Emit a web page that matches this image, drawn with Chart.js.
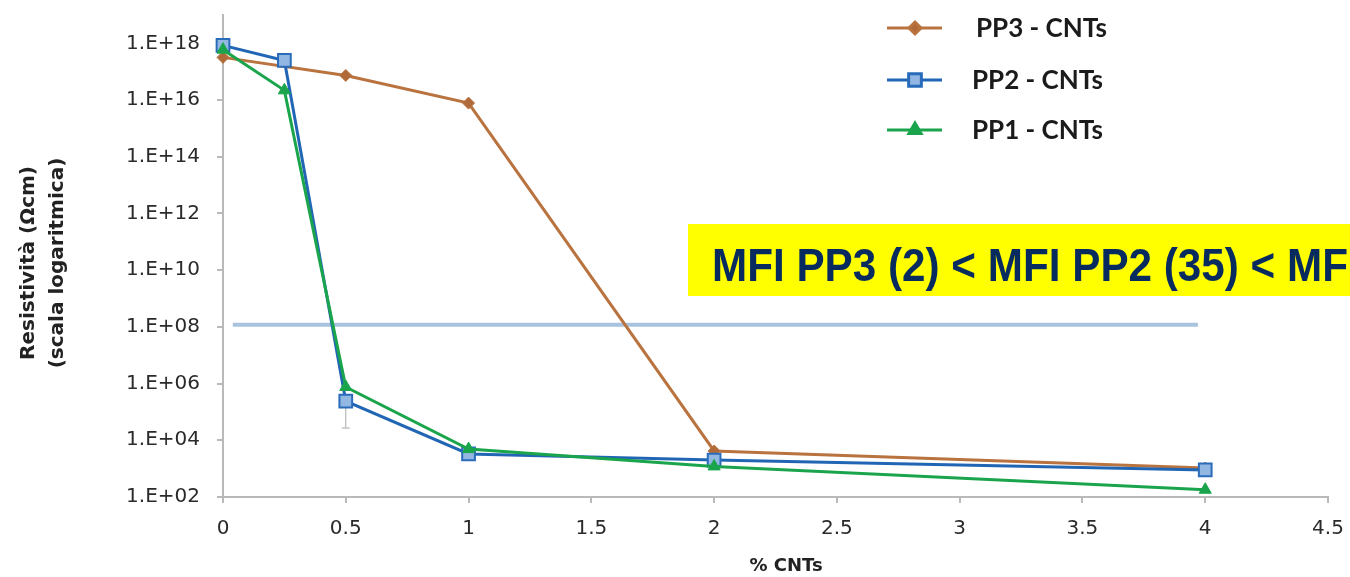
<!DOCTYPE html>
<html>
<head>
<meta charset="utf-8">
<script src="https://cdn.jsdelivr.net/npm/chart.js@4.4.1/dist/chart.umd.min.js"></script>
<style>
  html, body { margin: 0; padding: 0; background: #fff; }
  #wrap { width: 1350px; height: 577px; position: relative; }
</style>
</head>
<body>
<div id="wrap"><canvas id="chart"></canvas></div>
<script>
// resistivity (ohm*cm) vs CNT content (%)
const pp3X = [0, 0.5, 1, 2, 4];
const pp3Y = [3.2e17, 7.4e16, 7.8e15, 4.2e3, 1.05e3];
const pp2X = [0, 0.25, 0.5, 1, 2, 4];
const pp2Y = [8.5e17, 2.5e17, 2.4e5, 3.3e3, 2.0e3, 9.0e2];
const pp1X = [0, 0.25, 0.5, 1, 2, 4];
const pp1Y = [6.0e17, 2.2e16, 7.6e5, 4.9e3, 1.2e3, 1.8e2];

// percolation reference line
const limitX = [0.04, 3.97];
const limitY = [1.2e8, 1.2e8];

// lower whisker on PP2 at 0.5 %
const errX = [0.5];
const errLow = [2.7e4];

const yTickExp = [2, 4, 6, 8, 10, 12, 14, 16, 18];
const xTicks = [0, 0.5, 1, 1.5, 2, 2.5, 3, 3.5, 4, 4.5];
const seriesNames = ['PP3 - CNTs', 'PP2 - CNTs', 'PP1 - CNTs'];
const noteText = 'MFI PP3 (2) < MFI PP2 (35) < MF';

const axisGray = '#b9b9b9';
const tickFont = '"DejaVu Sans", sans-serif';

function pts(xs, ys) {
  return xs.map((x, i) => ({ x: x, y: ys[i] }));
}

// keep the plot box fixed, no extra room for edge labels
function noEdgePadding(s) {
  s.paddingTop = 0;
  s.paddingBottom = 0;
  s.paddingLeft = 0;
  s.paddingRight = 0;
}

const extras = {
  id: 'extras',
  beforeDatasetsDraw(chart) {
    const ctx = chart.ctx;
    const xs = chart.scales.x, ys = chart.scales.y;
    ctx.save();
    ctx.strokeStyle = '#a8a8a8';
    ctx.lineWidth = 1;
    errX.forEach((x, i) => {
      const k = pp2X.indexOf(x);
      const px = xs.getPixelForValue(x);
      const top = ys.getPixelForValue(pp2Y[k]);
      const bot = ys.getPixelForValue(errLow[i]);
      ctx.beginPath();
      ctx.moveTo(px, top);
      ctx.lineTo(px, bot);
      ctx.moveTo(px - 4, bot);
      ctx.lineTo(px + 4, bot);
      ctx.stroke();
    });
    ctx.restore();
  },
  afterDraw(chart) {
    const ctx = chart.ctx;
    ctx.save();

    // legend, drawn top to bottom
    const rows = [28, 80, 130];
    [0, 1, 2].forEach((di, r) => {
      const ds = chart.data.datasets[di];
      const y = rows[r];
      ctx.strokeStyle = ds.borderColor;
      ctx.lineWidth = 3;
      ctx.beginPath();
      ctx.moveTo(887, y);
      ctx.lineTo(942, y);
      ctx.stroke();
      ctx.fillStyle = ds.pointBackgroundColor;
      ctx.strokeStyle = ds.pointBorderColor;
      Chart.helpers.drawPoint(ctx, {
        pointStyle: ds.pointStyle,
        radius: ds.pointRadius,
        borderWidth: ds.pointBorderWidth,
        rotation: 0
      }, 915, y);
      ctx.fillStyle = '#1b1b1b';
      ctx.font = 'bold 26px Lato, sans-serif';
      ctx.textBaseline = 'middle';
      ctx.textAlign = 'left';
      ctx.fillText(seriesNames[di], r === 0 ? 976 : 972, y + 1);
    });

    // axis titles
    ctx.fillStyle = '#222';
    ctx.font = 'bold 18px "DejaVu Sans", sans-serif';
    ctx.textAlign = 'center';
    ctx.textBaseline = 'middle';
    ctx.fillText('% CNTs', 786, 566);
    ctx.font = 'bold 20px "DejaVu Sans", sans-serif';
    ctx.save();
    ctx.translate(29, 263);
    ctx.rotate(-Math.PI / 2);
    ctx.fillText('Resistività (Ωcm)', 0, 0);
    ctx.fillText('(scala logaritmica)', 0, 29);
    ctx.restore();

    // highlighted note
    ctx.fillStyle = '#ffff00';
    ctx.fillRect(688, 224, 662, 72);
    ctx.fillStyle = '#072b5e';
    ctx.font = 'bold 46px "Liberation Sans", Arial, sans-serif';
    ctx.textAlign = 'left';
    ctx.textBaseline = 'alphabetic';
    const w = ctx.measureText(noteText).width;
    ctx.translate(712, 281);
    ctx.scale(636 / w, 1);
    ctx.fillText(noteText, 0, 0);
    ctx.restore();
  }
};

new Chart(document.getElementById('chart'), {
  type: 'line',
  data: {
    datasets: [
      {
        label: seriesNames[0],
        data: pts(pp3X, pp3Y),
        borderColor: '#b9733f',
        borderWidth: 3,
        pointStyle: 'rectRot',
        pointRadius: 6,
        pointBackgroundColor: '#b06a3a',
        pointBorderColor: '#b9733f',
        pointBorderWidth: 1,
        order: 3,
        clip: false
      },
      {
        label: seriesNames[1],
        data: pts(pp2X, pp2Y),
        borderColor: '#2166b5',
        borderWidth: 3,
        pointStyle: 'rect',
        pointRadius: 9,
        pointBackgroundColor: '#93b7e3',
        pointBorderColor: '#2a6cba',
        pointBorderWidth: 2,
        order: 2,
        clip: false
      },
      {
        label: seriesNames[2],
        data: pts(pp1X, pp1Y),
        borderColor: '#1aa54c',
        borderWidth: 3,
        pointStyle: 'triangle',
        pointRadius: 7,
        pointBackgroundColor: '#1aa54c',
        pointBorderColor: '#1aa54c',
        pointBorderWidth: 1,
        order: 1,
        clip: false
      },
      {
        label: 'limite',
        data: pts(limitX, limitY),
        borderColor: '#a9c3df',
        borderWidth: 4,
        pointRadius: 0,
        order: 4,
        clip: false
      }
    ]
  },
  options: {
    responsive: true,
    maintainAspectRatio: false,
    animation: false,
    layout: { padding: { top: 15, right: 22, left: 0, bottom: 0 } },
    plugins: {
      legend: { display: false },
      tooltip: { enabled: false }
    },
    scales: {
      x: {
        type: 'linear',
        min: 0,
        max: 4.5,
        afterBuildTicks: s => { s.ticks = xTicks.map(v => ({ value: v })); },
        afterFit: s => { s.height = 80; noEdgePadding(s); },
        grid: { drawOnChartArea: false, tickLength: 6, color: axisGray, lineWidth: 2 },
        border: { color: axisGray, width: 2 },
        ticks: {
          color: '#2a2a2a',
          font: { family: tickFont, size: 20 },
          padding: 14,
          maxRotation: 0,
          callback: v => String(v)
        }
      },
      y: {
        type: 'logarithmic',
        min: 1e2,
        max: 1e19,
        afterBuildTicks: s => { s.ticks = yTickExp.map(e => ({ value: Math.pow(10, e) })); },
        afterFit: s => { s.width = 223; noEdgePadding(s); },
        grid: { drawOnChartArea: false, tickLength: 6, color: axisGray, lineWidth: 2 },
        border: { color: axisGray, width: 2 },
        ticks: {
          color: '#2a2a2a',
          font: { family: tickFont, size: 20 },
          padding: 17,
          callback: v => '1.E+' + String(Math.round(Math.log10(v))).padStart(2, '0')
        }
      }
    }
  },
  plugins: [extras]
});
</script>
</body>
</html>
